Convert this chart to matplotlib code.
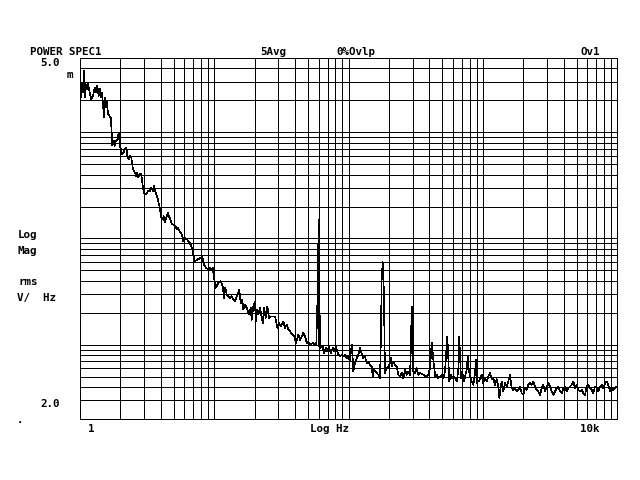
import numpy as np
import matplotlib
matplotlib.use('Agg')
import matplotlib.pyplot as plt
from matplotlib.ticker import LogLocator, NullFormatter

# power spectrum, 5 averages
# frequency in Hz, magnitude in uV rms / sqrt(Hz)
freq_hz = [
    1.01, 1.02, 1.04, 1.053, 1.071, 1.084, 1.103, 1.127, 1.147, 1.181,
    1.214, 1.250, 1.287, 1.323, 1.346, 1.378, 1.409, 1.441, 1.458, 1.484,
    1.510, 1.528, 1.554, 1.581, 1.617, 1.664, 1.693, 1.710, 1.740, 1.782,
    1.813, 1.845, 1.896, 1.942, 1.975, 2.01, 2.03, 2.066, 2.116, 2.153,
    2.213, 2.251, 2.306, 2.346, 2.411, 2.482, 2.556, 2.627, 2.672, 2.718,
    2.784, 2.862, 2.947, 2.998, 3.118, 3.210, 3.305, 3.397, 3.498, 3.558,
    3.638, 3.746, 3.925, 4.034, 4.10, 4.20, 4.273, 4.392, 4.523, 4.601,
    4.705, 4.845, 4.989, 5.128, 5.253, 5.37, 5.53, 5.626, 5.753, 5.883,
    6.025, 6.266, 6.562, 6.828, 6.946, 7.152, 7.477, 7.928, 8.147, 8.386,
    8.68, 9.03, 9.30, 9.57, 9.74, 9.96, 10.25, 10.72, 11.17, 11.56,
    11.82, 12.09, 12.38, 12.72, 13.10, 13.49, 13.87, 14.28, 14.70, 15.37,
    15.74, 16.18, 16.46, 16.94, 17.45, 18.15, 18.69, 19.01, 19.54, 20.12,
    20.36, 20.93, 21.29, 21.92, 22.96, 23.48, 24.18, 24.85, 25.57, 26.33,
    28.35, 29.49, 30.37, 31.26, 32.68, 33.65, 34.65, 35.61, 36.67, 38.41,
    39.48, 40.64, 42.28, 43.53, 44.82, 46.07, 47.42, 48.83, 50.19, 51.67,
    54.12, 56.30, 57.5, 58.5, 60.0, 60.3, 60.6, 61.0, 61.6, 64.26,
    65.72, 67.67, 69.54, 71.6, 73.7, 76.3, 78.4, 80.7, 83.1, 86.4,
    89.0, 91.5, 94.2, 97.0, 99.7, 102.6, 104.4, 106.2, 107.5, 108.6,
    111.8, 115.1, 118.3, 121.8, 125.4, 128.9, 132.7, 136.6, 140.4, 144.6,
    148.9, 151.5, 154.9, 159.5, 162.3, 166.7, 171.6, 173.8, 176.7, 179.8,
    181.6, 183.8, 187.0, 190.2, 194.5, 200.3, 203.8, 207.3, 210.9, 215.7,
    222.1, 228.6, 235.0, 241.9, 249.1, 256.0, 263.6, 271.4, 278.9, 287.2,
    290.6, 295.7, 300.8, 303.9, 312.9, 322.1, 331.1, 341.0, 360.8, 382.4,
    393.0, 404.7, 416.7, 423.9, 433.5, 443.3, 454.0, 466.7, 480.5, 494.7,
    508.4, 523.5, 539.0, 544.5, 554.0, 563.5, 577.3, 587.2, 603.5, 621.4,
    639.8, 657.6, 669.0, 677.1, 688.7, 709.2, 725.1, 737.7, 759.6, 772.7,
    786.1, 803.7, 827.5, 850.5, 875.7, 890.8, 901.5, 917.1, 937.6, 953.9,
    982.2, 1009, 1039, 1070, 1100, 1132, 1166, 1198, 1234, 1270,
    1306, 1329, 1361, 1384, 1423, 1465, 1508, 1550, 1596, 1643,
    1689, 1739, 1790, 1840, 1894, 1951, 2005, 2064, 2125, 2184,
    2249, 2315, 2379, 2450, 2522, 2592, 2669, 2748, 2825, 2909,
    2995, 3078, 3169, 3263, 3353, 3453, 3555, 3653, 3761, 3873,
    3981, 4100, 4221, 4338, 4467, 4599, 4726, 4867, 5010, 5149,
    5303, 5460, 5610, 5777, 5948, 6113, 6295, 6479, 6659, 6856,
    7059, 7255, 7470, 7691, 7904, 8138, 8379, 8612, 8867, 9130,
    9385, 9663, 9949,
]
mag_uv = [
    3160, 2120, 2940, 2370, 3780, 2120, 2840, 2550, 2840, 2370,
    2050, 2200, 2640, 2370, 2730, 2200, 2550, 2120, 2370, 1840,
    1380, 2120, 1710, 1970, 1480, 1420, 1380, 1150, 754, 828,
    743, 828, 859, 993, 770, 702, 666, 620, 644, 691,
    717, 598, 556, 598, 577, 448, 417, 387, 417, 374,
    402, 402, 301, 270, 260, 279, 279, 301, 279, 316,
    279, 251, 195, 157, 151, 162, 141, 157, 175, 162,
    151, 136, 136, 131, 122, 126, 117, 113, 109, 94.3,
    101.5, 97.9, 91.1, 81.7, 73.3, 61.1, 63.4, 65.8, 68.1, 56.9,
    52.9, 51.0, 52.9, 51.0, 52.9, 42.6, 34.3, 38.2, 39.6, 35.5,
    27.6, 34.3, 29.6, 28.6, 27.6, 28.6, 26.6, 25.6, 28.6, 33.0,
    24.7, 26.6, 21.4, 23.8, 22.2, 19.2, 22.2, 17.2, 23.0, 25.6,
    16.6, 21.4, 19.2, 22.2, 16.0, 22.2, 17.9, 23.0, 17.9, 18.5,
    18.5, 14.4, 16.0, 14.9, 16.6, 14.4, 15.4, 13.9, 13.4, 12.4,
    12.0, 10.4, 12.4, 11.1, 12.0, 12.9, 12.0, 10.4, 10.7, 10.0,
    10.4, 10.0, 10.0, 21.4, 151, 75.9, 9.64, 19.2, 9.31, 9.64,
    8.35, 9.31, 8.65, 9.64, 8.35, 9.31, 8.65, 9.64, 8.35, 7.76,
    8.05, 7.76, 8.05, 7.49, 7.76, 6.96, 8.97, 10.0, 7.22, 5.60,
    6.72, 7.49, 8.05, 9.31, 8.35, 7.49, 7.76, 6.72, 6.96, 6.48,
    6.24, 5.02, 5.81, 5.60, 5.41, 5.21, 4.85, 9.64, 41.0, 59.8,
    59.0, 24.7, 5.41, 5.81, 6.03, 6.48, 6.72, 7.49, 6.24, 6.96,
    6.48, 6.24, 5.21, 5.02, 5.41, 4.85, 5.81, 5.21, 5.60, 5.21,
    8.35, 22.7, 22.2, 5.60, 5.41, 6.03, 5.21, 5.41, 5.21, 5.02,
    5.21, 6.03, 10.4, 8.35, 6.24, 5.02, 5.21, 4.85, 5.02, 5.21,
    4.85, 5.60, 9.64, 12.0, 7.22, 4.51, 5.21, 4.85, 5.02, 4.85,
    4.51, 5.81, 12.0, 7.76, 4.85, 5.21, 4.51, 5.02, 5.81, 7.76,
    5.81, 5.02, 4.51, 4.19, 5.41, 7.22, 4.35, 4.51, 4.51, 4.85,
    5.21, 4.35, 4.85, 4.51, 5.02, 5.41, 4.73, 4.85, 4.19, 4.73,
    4.04, 3.14, 4.04, 4.51, 3.63, 4.35, 4.04, 4.51, 5.21, 3.90,
    3.76, 3.90, 3.63, 3.76, 4.04, 3.50, 3.38, 3.90, 3.76, 4.19,
    4.35, 4.19, 4.51, 4.04, 3.76, 3.63, 3.38, 3.90, 4.19, 3.63,
    4.04, 4.35, 4.04, 3.63, 3.38, 3.63, 3.90, 4.04, 3.63, 3.50,
    3.90, 4.04, 3.63, 3.90, 4.04, 4.19, 4.51, 3.90, 4.19, 3.76,
    3.63, 3.76, 3.50, 3.38, 4.04, 4.19, 3.90, 3.76, 3.50, 4.04,
    3.90, 3.63, 4.04, 4.19, 3.90, 4.35, 4.51, 4.19, 3.63, 3.90,
    3.76, 3.90, 4.04,
]

f_start, f_stop = 1.0, 10e3
y_bottom, y_top = 2.0e-6, 5.0e-3

freq = np.array(freq_hz)
mag = np.array(mag_uv) * 1e-6

plt.rcParams['font.family'] = 'DejaVu Sans Mono'
plt.rcParams['font.weight'] = 'bold'
plt.rcParams['font.size'] = 7.8

fig = plt.figure(figsize=(6.4, 4.8), dpi=100)
ax = fig.add_axes([80/640, 61/480, 537/640, 361/480])

# 1 px lines, no smoothing, like the analyzer screen
px = 0.72
ax.plot(freq, mag, color='black', lw=0.45, antialiased=False)
ax.set_xscale('log')
ax.set_yscale('log')
ax.set_xlim(f_start, f_stop)
ax.set_ylim(y_bottom, y_top)

# full log grid, 1..9 in every decade
for axis in (ax.xaxis, ax.yaxis):
    axis.set_major_locator(LogLocator(base=10, numticks=20))
    axis.set_minor_locator(LogLocator(base=10, subs=np.arange(2, 10), numticks=20))
    axis.set_major_formatter(NullFormatter())
    axis.set_minor_formatter(NullFormatter())
ax.grid(True, which='both', color='black', lw=px, antialiased=False)
ax.tick_params(which='both', length=0)
for sp in ax.spines.values():
    sp.set_color('black')
    sp.set_linewidth(px)
    sp.set_antialiased(False)

def label(x, y, s, ha='left'):
    fig.text(x/640, 1 - y/480, s, ha=ha, va='center')

label(30, 52, 'POWER SPEC1')
label(273, 52, '5Avg', ha='center')
label(356, 52, '0%Ovlp', ha='center')
label(590, 52, 'Ov1', ha='center')
label(60, 63, '5.0', ha='right')
label(67, 75, 'm')
label(18, 235, 'Log')
label(18, 251, 'Mag')
label(18, 282, 'rms')
label(17, 298, 'V/  Hz')
label(60, 404, '2.0', ha='right')
label(17, 420, '.')
label(91, 429, '1', ha='center')
label(330, 429, 'Log Hz', ha='center')
label(590, 429, '10k', ha='center')

fig.savefig('out.png', dpi=100, facecolor='white')
